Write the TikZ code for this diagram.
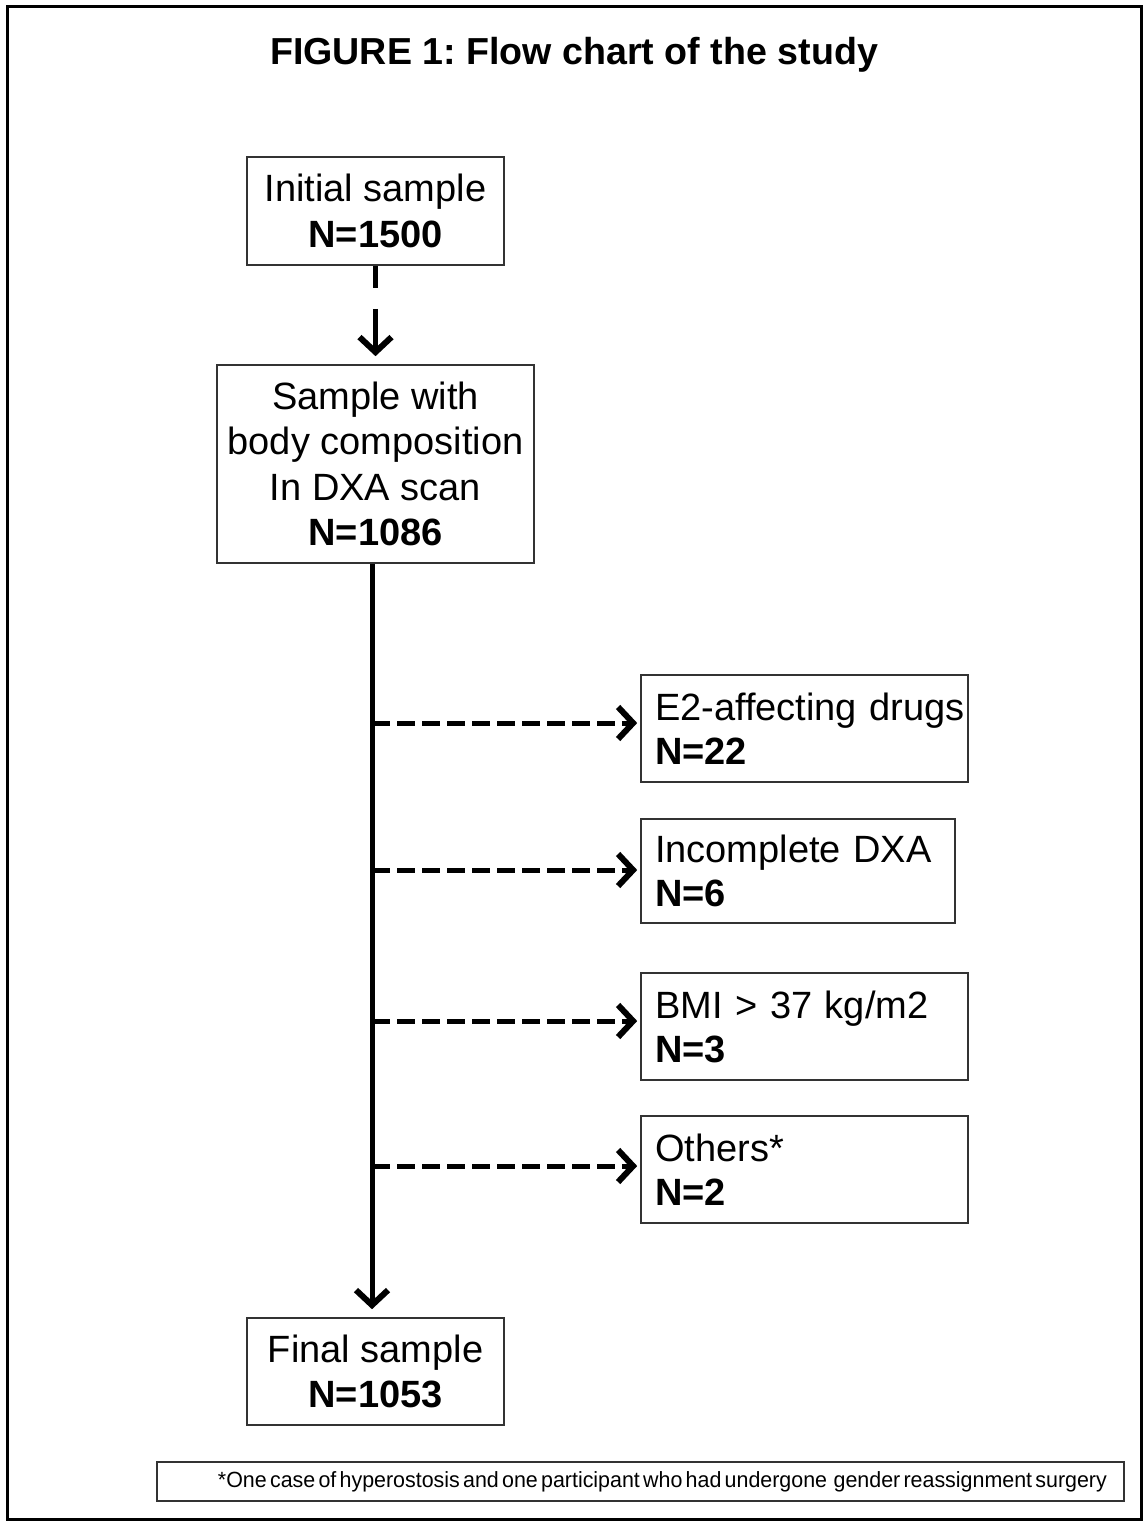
\documentclass[tikz,border=0pt]{standalone}
\usepackage{fontspec}
\setmainfont{Liberation Sans}
\usepackage{graphicx}
\usetikzlibrary{arrows.meta}
\frenchspacing
\begin{document}
\begin{tikzpicture}[x=1pt,y=-1pt,
  box/.style={draw=black!80, line width=1.6pt, inner sep=0pt, align=center,
    font=\fontsize{38}{45.5}\selectfont},
  sidebox/.style={draw=black!80, line width=1.6pt, inner sep=0pt, align=left,
    font=\fontsize{38}{44}\selectfont},
  chev/.style={-{Straight Barb[length=15pt,width=32pt,line width=6pt]}},
  mainarrow/.style={line width=5pt, chev},
  dasharrow/.style={line width=5pt, chev, dash pattern=on 18pt off 7pt},
]
\useasboundingbox (0,0) rectangle (1145,1526);
\node[draw=black, line width=3pt, minimum width=1134pt, minimum height=1513pt, inner sep=0pt] (frame) at (574,762.5) {};
\node[anchor=base, font=\fontsize{37.6}{44}\selectfont\bfseries] (title) at (574,64) {FIGURE 1: Flow chart of the study};

\node[box, minimum width=257pt, minimum height=108pt] (b1) at (375.5,211) {Initial sample\\\textbf{N=1500}};
\node[box, minimum width=317pt, minimum height=198pt] (b2) at (375.5,464) {Sample with\\body composition\\In DXA scan\\\textbf{N=1086}};
\node[box, minimum width=257pt, minimum height=107pt] (fin) at (375.5,1371.5) {Final sample\\\textbf{N=1053}};

\node[sidebox, minimum width=327pt, minimum height=107pt, text width=299pt] (e2) at (804.5,728.5) {\mbox{E2-affecting drugs}\\\textbf{N=22}};
\node[sidebox, minimum width=314pt, minimum height=104pt, text width=286pt] (inc) at (798,871) {\mbox{Incomplete DXA}\\\textbf{N=6}};
\node[sidebox, minimum width=327pt, minimum height=107pt, text width=299pt] (bmi) at (804.5,1026.5) {\mbox{BMI \textgreater{} 37 kg/m2}\\\textbf{N=3}};
\node[sidebox, minimum width=327pt, minimum height=107pt, text width=299pt] (oth) at (804.5,1169.5) {Others*\\\textbf{N=2}};

\node[draw=black!80, line width=1.6pt, minimum width=967pt, minimum height=39pt, inner xsep=17pt, inner ysep=0pt, text width=933pt, align=right] (foot) at (640.5,1481.5)
  {\resizebox{889pt}{\height}{\fontsize{22}{26}\selectfont *One case of hyperostosis and one participant who had undergone\ \ gender reassignment surgery}};

\coordinate (j1) at (372,723);
\coordinate (j2) at (372,870);
\coordinate (j3) at (372,1021);
\coordinate (j4) at (372,1166);

\draw[line width=5pt, chev, dash pattern=on 22pt off 21pt on 80pt, shorten >=8pt] (b1.south) -- (b2.north);
\draw[mainarrow, shorten >=8pt] (b2.south -| j1) -- (fin.north -| j1);

\draw[dasharrow, shorten >=3pt] (j1) -- (j1 -| e2.west);
\draw[dasharrow, shorten >=3pt] (j2) -- (j2 -| inc.west);
\draw[dasharrow, shorten >=3pt] (j3) -- (j3 -| bmi.west);
\draw[dasharrow, shorten >=3pt] (j4) -- (j4 -| oth.west);
\end{tikzpicture}
\end{document}
